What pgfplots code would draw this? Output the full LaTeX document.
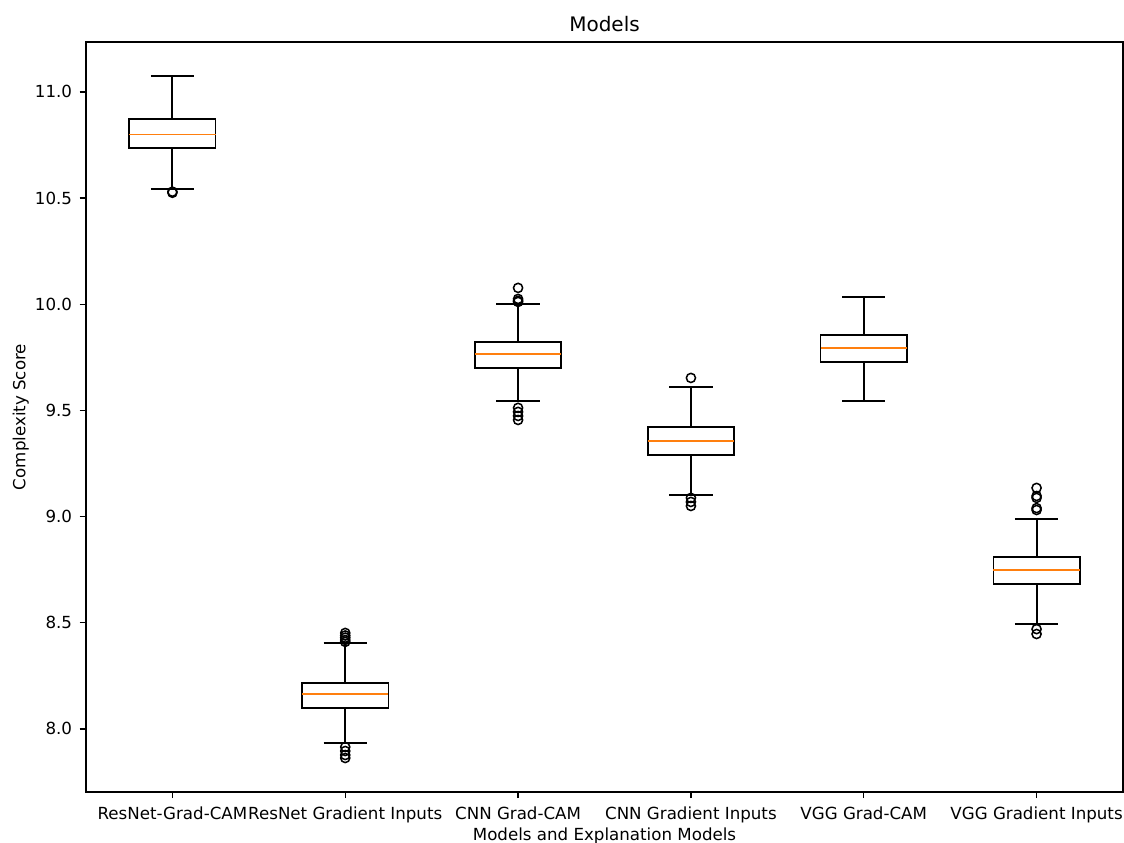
\documentclass[border=0pt]{standalone}
\usepackage{fontspec}
\setmainfont{DejaVu Sans}
\usepackage{pgfplots}
\pgfplotsset{compat=1.18}
\usepgfplotslibrary{statistics}
\definecolor{medorange}{HTML}{FF7F0E}

\begin{document}
\begin{tikzpicture}
\useasboundingbox (-61.92pt,-36.72pt) rectangle (747.36pt,570.24pt);
\begin{axis}[
  at={(0,0)}, anchor=south west,
  scale only axis, width=746.64pt, height=540pt,
  xmin=0.5, xmax=6.5, ymin=7.703, ymax=11.235,
  axis line style={line width=0.9pt},
  tick style={black, line width=0.9pt},
  tick align=outside, major tick length=4.5pt,
  xtick pos=bottom, ytick pos=left,
  xtick={1,2,3,4,5,6},
  xticklabels={ResNet-Grad-CAM, ResNet Gradient Inputs, CNN Grad-CAM, CNN Gradient Inputs, VGG Grad-CAM, VGG Gradient Inputs},
  ytick={8,8.5,9,9.5,10,10.5,11},
  /pgf/number format/assume math mode=true,
  yticklabel={\pgfmathprintnumber[fixed,fixed zerofill,precision=1]{\tick}},
  ticklabel style={font=\fontsize{12}{14}\selectfont},
  xticklabel style={yshift=-2.5pt},
  yticklabel style={xshift=-2pt},
  title={Models},
  title style={at={(axis description cs:0.5,1)}, anchor=base, yshift=1.4pt, font=\fontsize{14.4}{17}\selectfont},
  xlabel={Models and Explanation Models},
  ylabel={Complexity Score},
  xlabel style={at={([yshift=-31.5pt]axis description cs:0.5,0)}, anchor=center, font=\fontsize{12}{14}\selectfont},
  ylabel style={at={([xshift=-47pt]axis description cs:0,0.5)}, anchor=center, font=\fontsize{12}{14}\selectfont},
  boxplot/draw direction=y,
  boxplot/box extend=0.5,
  boxplot/whisker extend=0.25,
  boxplot/every box/.style={draw=black, line width=1.2pt, fill=none},
  boxplot/every whisker/.style={draw=black, line width=1.4pt},
  boxplot/every median/.style={draw=medorange, line width=1.2pt},
  every axis plot/.append style={black, line width=1.2pt, mark=o, mark size=3.3pt, mark options={solid, fill=none, line width=1.1pt}},
]
% ResNet-Grad-CAM
\addplot[boxplot prepared={draw position=1, lower whisker=10.543, lower quartile=10.736, median=10.800, upper quartile=10.873, upper whisker=11.075}]
  table[row sep=\\, y index=0] {10.530\\ 10.525\\};
% ResNet Gradient Inputs
\addplot[boxplot prepared={draw position=2, lower whisker=7.934, lower quartile=8.098, median=8.164, upper quartile=8.216, upper whisker=8.405}]
  table[row sep=\\, y index=0] {8.452\\ 8.440\\ 8.430\\ 8.419\\ 8.410\\ 7.915\\ 7.896\\ 7.877\\ 7.863\\};
% CNN Grad-CAM
\addplot[boxplot prepared={draw position=3, lower whisker=9.545, lower quartile=9.700, median=9.766, upper quartile=9.822, upper whisker=10.001}]
  table[row sep=\\, y index=0] {10.077\\ 10.025\\ 10.016\\ 10.011\\ 9.512\\ 9.493\\ 9.474\\ 9.455\\};
% CNN Gradient Inputs
\addplot[boxplot prepared={draw position=4, lower whisker=9.102, lower quartile=9.290, median=9.356, upper quartile=9.422, upper whisker=9.610}]
  table[row sep=\\, y index=0] {9.653\\ 9.088\\ 9.069\\ 9.050\\};
% VGG Grad-CAM
\addplot[boxplot prepared={draw position=5, lower whisker=9.545, lower quartile=9.728, median=9.794, upper quartile=9.855, upper whisker=10.034}]
  coordinates {};
% VGG Gradient Inputs
\addplot[boxplot prepared={draw position=6, lower whisker=8.494, lower quartile=8.683, median=8.749, upper quartile=8.810, upper whisker=8.989}]
  table[row sep=\\, y index=0] {9.135\\ 9.097\\ 9.088\\ 9.040\\ 9.031\\ 8.470\\ 8.447\\};
\end{axis}
\end{tikzpicture}
\end{document}
